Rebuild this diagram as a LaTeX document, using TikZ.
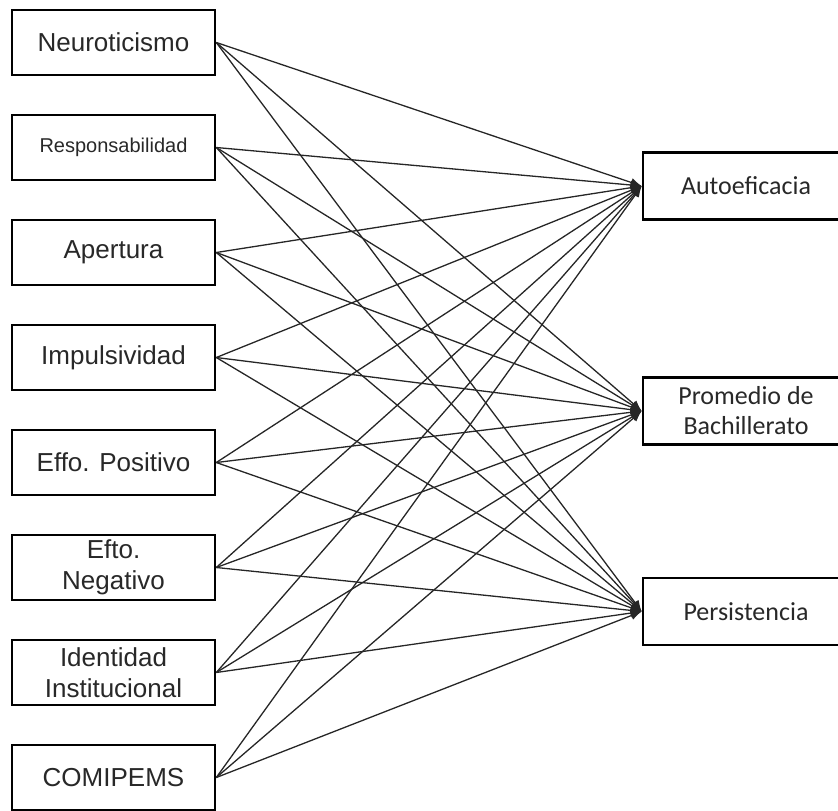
\documentclass[tikz,border=0pt]{standalone}
\usepackage{fontspec}
\setmainfont{Liberation Sans}
\newfontfamily\calibri{Carlito}
\usetikzlibrary{arrows.meta,positioning}
\definecolor{ink}{RGB}{40,40,40}

\begin{document}
\begin{tikzpicture}[x=1pt,y=-1pt,node distance=37.4pt,>={Latex[length=11pt,width=9pt]},
inbox/.style={draw,line width=2.6pt,minimum width=203pt,minimum height=65pt,align=center,text=ink,inner sep=2pt,font=\fontsize{26}{31}\selectfont},
outbox/.style={inbox,minimum width=206pt,minimum height=67pt,font=\calibri\fontsize{26}{30}\selectfont},
arr/.style={->,line width=1.3pt,black!85}]
\useasboundingbox (0,0) rectangle (838,811);
% predictores
\node[inbox] (neuro) at (113.5,42.5) {Neuroticismo};
\node[inbox,below=of neuro,font=\fontsize{20}{24}\selectfont] (respons) {Responsabilidad};
\node[inbox,below=of respons] (apertura) {Apertura};
\node[inbox,below=of apertura] (impuls) {Impulsividad};
\node[inbox,below=of impuls] (efpos) {Effo. Positivo};
\node[inbox,below=of efpos] (efneg) {Efto.\\Negativo};
\node[inbox,below=of efneg] (identidad) {Identidad\\Institucional};
\node[inbox,below=of identidad] (comipems) {COMIPEMS};
% resultados
\node[outbox] (autoef) at (746,186) {Autoeficacia};
\node[outbox] (promedio) at (746,411) {Promedio de\\Bachillerato};
\node[outbox] (persist) at (746,611.5) {Persistencia};
\draw[arr] (neuro.east)--(autoef.west);
\draw[arr] (neuro.east)--(promedio.west);
\draw[arr] (neuro.east)--(persist.west);
\draw[arr] (respons.east)--(autoef.west);
\draw[arr] (respons.east)--(promedio.west);
\draw[arr] (respons.east)--(persist.west);
\draw[arr] (apertura.east)--(autoef.west);
\draw[arr] (apertura.east)--(promedio.west);
\draw[arr] (apertura.east)--(persist.west);
\draw[arr] (impuls.east)--(autoef.west);
\draw[arr] (impuls.east)--(promedio.west);
\draw[arr] (impuls.east)--(persist.west);
\draw[arr] (efpos.east)--(autoef.west);
\draw[arr] (efpos.east)--(promedio.west);
\draw[arr] (efpos.east)--(persist.west);
\draw[arr] (efneg.east)--(autoef.west);
\draw[arr] (efneg.east)--(promedio.west);
\draw[arr] (efneg.east)--(persist.west);
\draw[arr] (identidad.east)--(autoef.west);
\draw[arr] (identidad.east)--(promedio.west);
\draw[arr] (identidad.east)--(persist.west);
\draw[arr] (comipems.east)--(autoef.west);
\draw[arr] (comipems.east)--(promedio.west);
\draw[arr] (comipems.east)--(persist.west);
\end{tikzpicture}
\end{document}
